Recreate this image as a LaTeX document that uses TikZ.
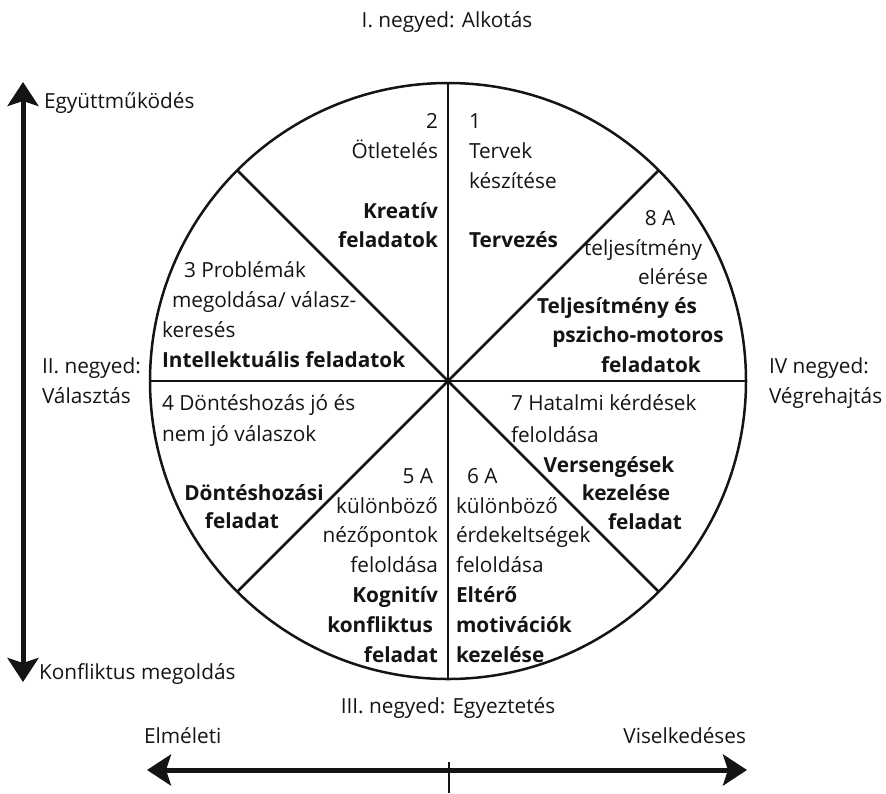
\documentclass[tikz,border=0pt]{standalone}
\usepackage{fontspec}
\setmainfont{Open Sans}
\usetikzlibrary{arrows.meta}
\definecolor{ink}{HTML}{141414}
\tikzset{
  txt/.style={inner sep=0pt, outer sep=0pt, text=ink, font=\fontsize{20.8}{29}\selectfont},
  bld/.style={txt, font=\fontsize{20.8}{29}\selectfont\bfseries},
  wl/.style={anchor=base west},
  el/.style={anchor=base east},
  cl/.style={anchor=base},
  wheel/.style={draw=ink, line width=2.5pt},
  bigarrow/.style={draw=ink, line width=5pt, {Stealth[length=24pt,width=31pt,inset=5pt]}-{Stealth[length=24pt,width=31pt,inset=5pt]}},
}
\begin{document}
\begin{tikzpicture}[x=1pt,y=-1pt]
\useasboundingbox (0,0) rectangle (886,793);
% wheel
\coordinate (c) at (448,381);
\coordinate (n) at (448,83);
\coordinate (s) at (448,679);
\coordinate (w) at (150,381);
\coordinate (e) at (746,381);
\coordinate (ne) at (658.7,170.3);
\coordinate (nw) at (237.3,170.3);
\coordinate (se) at (658.7,591.7);
\coordinate (sw) at (237.3,591.7);
\draw[wheel] (c) circle[radius=298];
\draw[wheel] (n) -- (s);
\draw[wheel] (w) -- (e);
\draw[wheel] (nw) -- (se);
\draw[wheel] (ne) -- (sw);
% axes
\coordinate (vt) at (23,82);
\coordinate (vb) at (23,682);
\draw[bigarrow] (vt) -- (vb);
\coordinate (hl) at (147,770);
\coordinate (hr) at (747,770);
\draw[bigarrow] (hl) -- (hr);
\coordinate (tt) at (449,762);
\coordinate (tb) at (449,793);
\draw[draw=ink, line width=2.5pt] (tt) -- (tb);
% outer labels
\node[txt,cl] (q1) at (447,27) {I. negyed: Alkotás};
\node[txt,wl] (coop) at (44,108) {Együttműködés};
\node[txt,wl] (konf) at (39,679) {Konfliktus megoldás};
\node[txt,wl] (q2a) at (42,373) {II. negyed:};
\node[txt,wl] (q2b) at (42,403) {Választás};
\node[txt,wl] (q4a) at (769,373) {IV negyed:};
\node[txt,wl] (q4b) at (769,403) {Végrehajtás};
\node[txt,cl] (q3) at (448,713) {III. negyed: Egyeztetés};
\node[txt,wl] (elm) at (144,743) {Elméleti};
\node[txt,el] (visel) at (746,743) {Viselkedéses};
% sector 2
\node[txt,el] (s2a) at (438,128) {2};
\node[txt,el] (s2b) at (438,158) {Ötletelés};
\node[bld,el] (s2c) at (438,218) {Kreatív};
\node[bld,el] (s2d) at (438,247) {feladatok};
% sector 1
\node[txt,wl] (s1a) at (469,128) {1};
\node[txt,wl] (s1b) at (469,158) {Tervek};
\node[txt,wl] (s1c) at (469,188) {készítése};
\node[bld,wl] (s1d) at (469,247) {Tervezés};
% sector 8
\node[txt,cl] (s8a) at (660,225) {8 A};
\node[txt,cl] (s8b) at (643,255) {teljesítmény};
\node[txt,cl] (s8c) at (673,284) {elérése};
\node[bld,cl] (s8d) at (617,313) {Teljesítmény és};
\node[bld,cl] (s8e) at (638,342) {pszicho-motoros};
\node[bld,cl] (s8f) at (651,372) {feladatok};
% sector 3
\node[txt,wl] (s3a) at (184,277) {3 Problémák};
\node[txt,wl] (s3b) at (172,307) {megoldása/ válasz-};
\node[txt,wl] (s3c) at (162,337) {keresés};
\node[bld,wl] (s3d) at (162,367) {Intellektuális feladatok};
% sector 4
\node[txt,wl] (s4a) at (162,410) {4 Döntéshozás jó és};
\node[txt,wl] (s4b) at (162,441) {nem jó válaszok};
\node[bld,cl] (s4c) at (254,500) {Döntéshozási};
\node[bld,cl] (s4d) at (242,528) {feladat};
% sector 5
\node[txt,el] (s5a) at (433,483) {5 A};
\node[txt,el] (s5b) at (438,513) {különböző};
\node[txt,el] (s5c) at (438,542) {nézőpontok};
\node[txt,el] (s5d) at (438,572) {feloldása};
\node[bld,el] (s5e) at (438,602) {Kognitív};
\node[bld,el] (s5f) at (433,632) {konfliktus};
\node[bld,el] (s5g) at (438,662) {feladat};
% sector 6
\node[txt,wl] (s6a) at (467,483) {6 A};
\node[txt,wl] (s6b) at (456,513) {különböző};
\node[txt,wl] (s6c) at (456,542) {érdekeltségek};
\node[txt,wl] (s6d) at (456,572) {feloldása};
\node[bld,wl] (s6e) at (456,602) {Eltérő};
\node[bld,wl] (s6f) at (456,632) {motivációk};
\node[bld,wl] (s6g) at (456,662) {kezelése};
% sector 7
\node[txt,wl] (s7a) at (511,410) {7 Hatalmi kérdések};
\node[txt,wl] (s7b) at (511,442) {feloldása};
\node[bld,cl] (s7c) at (609,472) {Versengések};
\node[bld,cl] (s7d) at (626,500) {kezelése};
\node[bld,cl] (s7e) at (645,529) {feladat};
\end{tikzpicture}
\end{document}
